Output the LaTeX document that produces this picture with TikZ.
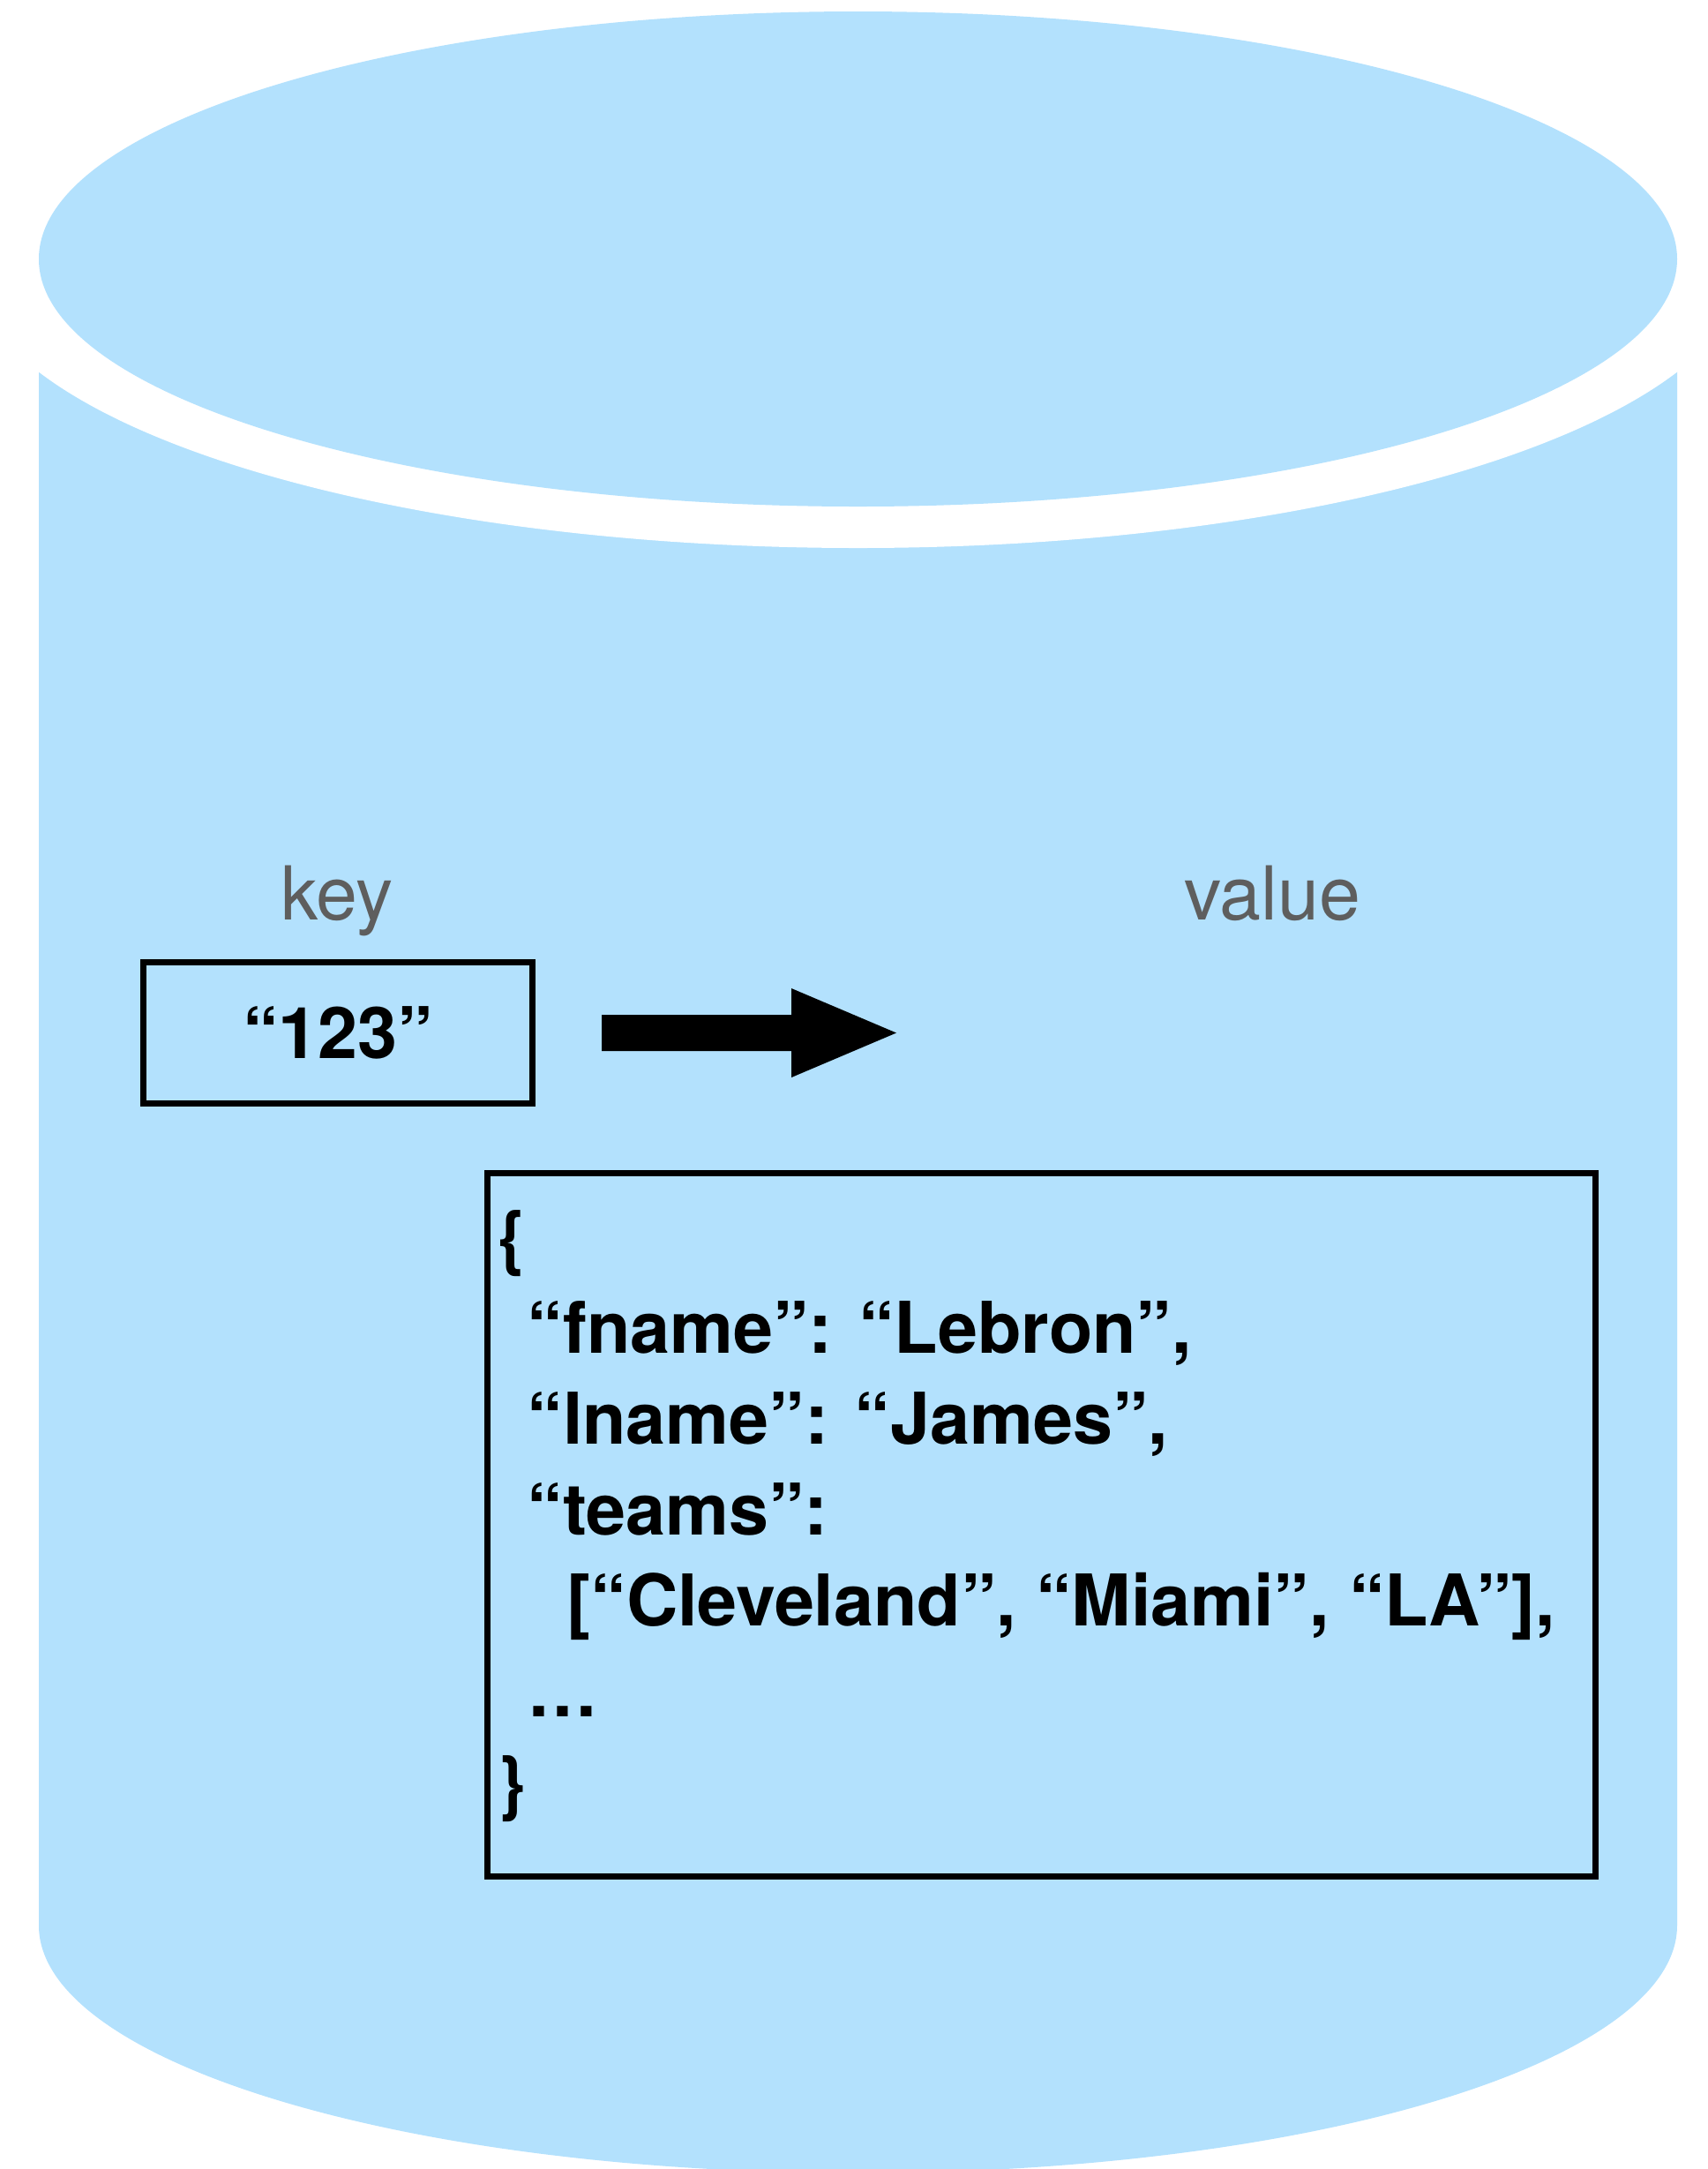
\documentclass[tikz,border=0pt]{standalone}
\usepackage{fontspec}
\setmainfont{TeX Gyre Heros}
\usetikzlibrary{positioning, calc}
\definecolor{dbblue}{RGB}{179,225,253}
\definecolor{labelgray}{RGB}{94,94,94}

\begin{document}
\begin{tikzpicture}[
  lbl/.style={text=labelgray, font=\fontsize{24pt}{28pt}\selectfont, inner sep=0pt},
  box/.style={draw=black, line width=2pt, inner sep=0pt},
  json/.style={font=\fontsize{23pt}{29.3pt}\selectfont\bfseries, align=left, inner sep=0pt}
]
\useasboundingbox (0,0) rectangle (19.36,-24.58);
% database cylinder
\fill[dbblue] (0.44,-2.935) -- (0.44,-21.82) arc[start angle=180, end angle=360, x radius=9.285, y radius=2.805] -- (19.01,-2.935) -- cycle;
\fill[white] (9.725,-2.935) ellipse [x radius=10.085, y radius=3.275];
\fill[dbblue] (9.725,-2.935) ellipse [x radius=9.285, y radius=2.805];

% key -> value
\node[lbl, anchor=base] (keylabel) at (3.82,-10.42) {key};
\node[lbl, anchor=base] (valuelabel) at (14.42,-10.42) {value};
\node[box, minimum width=4.41cm, minimum height=1.60cm, font=\fontsize{23pt}{28pt}\selectfont\bfseries] (keynode) at (3.83,-11.705) {“123”};
\fill[black] ($(keynode.east)+(0.75,0.205)$) -- ++(2.15,0) -- ++(0,0.30) -- ++(1.19,-0.505) -- ++(-1.19,-0.505) -- ++(0,0.30) -- ++(-2.15,0) -- cycle;

\node[box, minimum width=12.56cm, minimum height=7.97cm] (valnode) at (11.805,-17.28) {};
\node[json, anchor=base west] (jsontext) at (5.64,-20.48) {%
\{\\
\hspace*{0.33cm}“fname”: “Lebron”,\\
\hspace*{0.33cm}“lname”: “James”,\\
\hspace*{0.33cm}“teams”:\\
\hspace*{0.78cm}[“Cleveland”, “Miami”, “LA”],\\
\hspace*{0.33cm}…\\
\}};
\end{tikzpicture}
\end{document}
